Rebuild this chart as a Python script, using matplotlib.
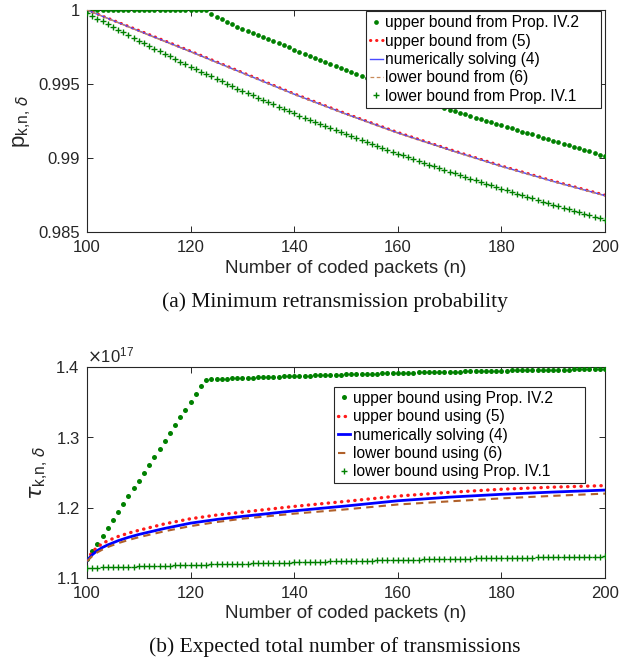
import matplotlib
matplotlib.use('Agg')
import matplotlib.pyplot as plt
import numpy as np
from matplotlib.ticker import FuncFormatter, ScalarFormatter

plt.rcParams['font.family'] = ['Liberation Sans', 'DejaVu Sans']
plt.rcParams['mathtext.fontset'] = 'dejavusans'

# ---------------- data ----------------
n_markers = np.arange(100, 201)

# (a) minimum retransmission probability
p_upper_prop42 = [
    1.0, 1.0, 1.0, 1.0, 1.0, 1.0, 1.0, 1.0, 1.0, 1.0,
    1.0, 1.0, 1.0, 1.0, 1.0, 1.0, 1.0, 1.0, 1.0, 1.0,
    1.0, 1.0, 1.0, 1.0,
    0.99975, 0.99955, 0.99938, 0.99921, 0.99904, 0.99888, 0.99872,
    0.99858, 0.99844, 0.99830, 0.99816, 0.99802, 0.99788, 0.99775, 0.99761, 0.99747, 0.99733,
    0.99719, 0.99705, 0.99691, 0.99677, 0.99664, 0.99650, 0.99636, 0.99622, 0.99608, 0.99595,
    0.99581, 0.99568, 0.99554, 0.99541, 0.99527, 0.99514, 0.99500, 0.99487, 0.99473, 0.99460,
    0.99446, 0.99433, 0.99419, 0.99406, 0.99392, 0.99379, 0.99365, 0.99352, 0.99338, 0.99325,
    0.99315, 0.99304, 0.99294, 0.99283, 0.99273, 0.99263, 0.99252, 0.99242, 0.99231, 0.99221,
    0.99211, 0.99200, 0.99190, 0.99179, 0.99169, 0.99159, 0.99148, 0.99138, 0.99127, 0.99117,
    0.99107, 0.99096, 0.99086, 0.99075, 0.99065, 0.99055, 0.99044, 0.99034, 0.99023, 0.99013,
]
p_lower_prop41 = [
    0.99980,
    0.99961, 0.99942, 0.99924, 0.99905, 0.99886, 0.99867, 0.99848, 0.99830, 0.99811, 0.99792,
    0.99774, 0.99757, 0.99739, 0.99722, 0.99704, 0.99686, 0.99669, 0.99651, 0.99634, 0.99616,
    0.99600, 0.99583, 0.99567, 0.99551, 0.99535, 0.99518, 0.99502, 0.99486, 0.99469, 0.99453,
    0.99438, 0.99423, 0.99407, 0.99392, 0.99377, 0.99362, 0.99347, 0.99331, 0.99316, 0.99301,
    0.99287, 0.99273, 0.99259, 0.99245, 0.99231, 0.99216, 0.99202, 0.99188, 0.99174, 0.99160,
    0.99147, 0.99134, 0.99121, 0.99108, 0.99095, 0.99081, 0.99068, 0.99055, 0.99042, 0.99029,
    0.99017, 0.99005, 0.98992, 0.98980, 0.98968, 0.98956, 0.98944, 0.98931, 0.98919, 0.98907,
    0.98896, 0.98884, 0.98873, 0.98861, 0.98850, 0.98838, 0.98827, 0.98815, 0.98804, 0.98792,
    0.98781, 0.98770, 0.98760, 0.98749, 0.98738, 0.98727, 0.98716, 0.98706, 0.98695, 0.98684,
    0.98674, 0.98664, 0.98654, 0.98644, 0.98634, 0.98624, 0.98614, 0.98604, 0.98594, 0.98584,
]
n_lines_a = [100, 110, 120, 130, 140, 150, 160, 170, 180, 190, 200]
p_upper_eq5 = [1.0, 0.99862, 0.99722, 0.99578, 0.99434, 0.99300, 0.99173, 0.99058, 0.98947, 0.98845, 0.98749]
p_numerical = [1.0, 0.99859, 0.99719, 0.99575, 0.99431, 0.99297, 0.99170, 0.99055, 0.98944, 0.98842, 0.98746]
p_lower_eq6 = [1.0, 0.99857, 0.99717, 0.99573, 0.99429, 0.99295, 0.99168, 0.99053, 0.98942, 0.98840, 0.98744]

# (b) expected total number of transmissions (units of 1e17)
TAU_UNIT = 1e17
tau_upper_prop42 = [
    1.1265, 1.1378, 1.1490, 1.1602, 1.1714, 1.1826, 1.1938, 1.2050, 1.2162, 1.2274,
    1.2386, 1.2498, 1.2610, 1.2722, 1.2834, 1.2946, 1.3058, 1.3170, 1.3282, 1.3394,
    1.3506, 1.3618, 1.3730, 1.3820, 1.3824, 1.3828, 1.3831, 1.3835, 1.3838, 1.3842, 1.3845,
    1.3848, 1.3850, 1.3853, 1.3856, 1.3859, 1.3861, 1.3864, 1.3867, 1.3869, 1.3872,
    1.3874, 1.3877, 1.3879, 1.3881, 1.3884, 1.3886, 1.3888, 1.3890, 1.3893, 1.3895,
    1.3897, 1.3899, 1.3901, 1.3903, 1.3905, 1.3907, 1.3909, 1.3911, 1.3913, 1.3915,
    1.3917, 1.3919, 1.3920, 1.3922, 1.3924, 1.3926, 1.3928, 1.3929, 1.3931, 1.3933,
    1.3935, 1.3936, 1.3938, 1.3939, 1.3941, 1.3942, 1.3944, 1.3945, 1.3947, 1.3948,
    1.3949, 1.3951, 1.3952, 1.3953, 1.3955, 1.3956, 1.3957, 1.3958, 1.3960, 1.3961,
    1.3962, 1.3963, 1.3964, 1.3965, 1.3967, 1.3968, 1.3969, 1.3970, 1.3971, 1.3972,
]
tau_lower_prop41 = [
    1.1143,
    1.1145, 1.1147, 1.1150, 1.1152, 1.1154, 1.1156, 1.1158, 1.1161, 1.1163, 1.1165,
    1.1167, 1.1169, 1.1171, 1.1173, 1.1175, 1.1177, 1.1179, 1.1181, 1.1183, 1.1185,
    1.1187, 1.1189, 1.1191, 1.1193, 1.1195, 1.1196, 1.1198, 1.1200, 1.1202, 1.1204,
    1.1206, 1.1208, 1.1209, 1.1211, 1.1213, 1.1215, 1.1217, 1.1218, 1.1220, 1.1222,
    1.1224, 1.1226, 1.1227, 1.1229, 1.1231, 1.1233, 1.1235, 1.1236, 1.1238, 1.1240,
    1.1242, 1.1243, 1.1245, 1.1246, 1.1248, 1.1250, 1.1251, 1.1253, 1.1254, 1.1256,
    1.1258, 1.1259, 1.1261, 1.1262, 1.1264, 1.1265, 1.1267, 1.1268, 1.1270, 1.1271,
    1.1272, 1.1274, 1.1275, 1.1276, 1.1278, 1.1279, 1.1280, 1.1281, 1.1283, 1.1284,
    1.1285, 1.1286, 1.1288, 1.1289, 1.1290, 1.1291, 1.1292, 1.1294, 1.1295, 1.1296,
    1.1297, 1.1298, 1.1299, 1.1300, 1.1301, 1.1302, 1.1303, 1.1304, 1.1305, 1.1306,
]
n_lines_b = [100, 101, 102, 103, 104, 106, 108, 110, 115, 120, 125, 130, 140, 150, 160, 170, 180, 190, 200]
tau_upper_eq5 = [1.1255, 1.1370, 1.1440, 1.1490, 1.1530, 1.1590, 1.1638, 1.1678, 1.1770, 1.1843,
                 1.1895, 1.1937, 1.2018, 1.2090, 1.2165, 1.2218, 1.2262, 1.2292, 1.2314]
tau_numerical = [1.1248, 1.1330, 1.1390, 1.1435, 1.1470, 1.1530, 1.1578, 1.1619, 1.1705, 1.1780,
                 1.1832, 1.1876, 1.1955, 1.2024, 1.2098, 1.2150, 1.2190, 1.2222, 1.2250]
tau_lower_eq6 = [1.1240, 1.1310, 1.1365, 1.1405, 1.1440, 1.1495, 1.1540, 1.1580, 1.1665, 1.1738,
                 1.1795, 1.1843, 1.1915, 1.1976, 1.2045, 1.2090, 1.2132, 1.2168, 1.2200]

x_ticks = [100, 120, 140, 160, 180, 200]
p_ticks = [0.985, 0.99, 0.995, 1.0]
tau_ticks = [1.1, 1.2, 1.3, 1.4]

labels_a = ['upper bound from Prop. IV.2', 'upper bound from (5)', 'numerically solving (4)',
            'lower bound from (6)', 'lower bound from Prop. IV.1']
labels_b = ['upper bound using Prop. IV.2', 'upper bound using (5)', 'numerically solving (4)',
            'lower bound using (6)', 'lower bound using Prop. IV.1']

# ---------------- styling ----------------
GREEN = '#008000'
RED = '#ff1a1a'
AX_COLOR = '#262626'
W, H = 620, 665

fig = plt.figure(figsize=(W / 100, H / 100), dpi=100)
ax1 = fig.add_axes([87 / W, 1 - 232 / H, 518 / W, 222 / H])
ax2 = fig.add_axes([87 / W, 1 - 578 / H, 518 / W, 211 / H])


def style_axes(ax):
    for s in ax.spines.values():
        s.set_color(AX_COLOR)
        s.set_linewidth(0.8)
    ax.tick_params(direction='in', top=True, right=True, length=4, width=0.7,
                   colors=AX_COLOR, labelsize=12, labelcolor=AX_COLOR)
    ax.tick_params(axis='x', pad=6)
    ax.tick_params(axis='y', pad=5)
    ax.set_xlim(100, 200)
    ax.set_xticks(x_ticks)
    ax.set_xlabel('Number of coded packets (n)', fontsize=13.5, color=AX_COLOR, labelpad=3)


def add_legend(ax, x0, y0, width, height):
    leg = ax.legend(loc='upper left', bbox_to_anchor=(x0, y0, width, height), mode='expand',
                    fontsize=11.2, fancybox=False, framealpha=1, edgecolor=AX_COLOR,
                    handlelength=0.8, handletextpad=0.15, borderpad=0.25,
                    labelspacing=0.22, borderaxespad=0)
    leg.get_frame().set_linewidth(0.8)
    return leg


dot_ls = (0, (0.1, 1.9))

# ---- (a)
ax1.plot(n_markers, p_upper_prop42, linestyle='none', marker='o', ms=3.4, mew=0,
         color=GREEN, label=labels_a[0], zorder=3)
ax1.plot(n_lines_a, p_upper_eq5, linestyle=dot_ls, lw=2.2, dash_capstyle='round',
         color=RED, label=labels_a[1], zorder=3)
ax1.plot(n_lines_a, p_numerical, linestyle='-', lw=1.0, color='#4a4aff',
         label=labels_a[2], zorder=4)
ax1.plot(n_lines_a, p_lower_eq6, linestyle=(0, (3, 2)), lw=0.9, color='#c88a5a',
         label=labels_a[3], zorder=4)
ax1.plot(n_markers, p_lower_prop41, linestyle='none', marker='+', ms=4.5, mew=1.0,
         color=GREEN, label=labels_a[4], zorder=3)
style_axes(ax1)
ax1.set_ylim(0.985, 1.0)
ax1.set_yticks(p_ticks)
ax1.yaxis.set_major_formatter(FuncFormatter(lambda v, _: '{:g}'.format(round(v, 6))))
ax1.set_ylabel(r'$\mathregular{p}_{\mathregular{k{,}n{,}}\ \delta}$', fontsize=16, color=AX_COLOR, labelpad=4)
add_legend(ax1, 0.539, 0.993, 0.453, 0.001)

# ---- (b)
t_up42 = np.array(tau_upper_prop42) * TAU_UNIT
t_up5 = np.array(tau_upper_eq5) * TAU_UNIT
t_num = np.array(tau_numerical) * TAU_UNIT
t_lo6 = np.array(tau_lower_eq6) * TAU_UNIT
t_lo41 = np.array(tau_lower_prop41) * TAU_UNIT

ax2.plot(n_markers, t_up42, linestyle='none', marker='o', ms=3.6, mew=0,
         color=GREEN, label=labels_b[0], zorder=3)
ax2.plot(n_lines_b, t_up5, linestyle=dot_ls, lw=2.4, dash_capstyle='round',
         color=RED, label=labels_b[1], zorder=3)
ax2.plot(n_lines_b, t_num, linestyle='-', lw=2.0, color='#0000ff',
         label=labels_b[2], zorder=4)
ax2.plot(n_lines_b, t_lo6, linestyle=(0, (3.5, 2.5)), lw=1.5, color='#b0602a',
         label=labels_b[3], zorder=4)
ax2.plot(n_markers, t_lo41, linestyle='none', marker='+', ms=5, mew=1.0,
         color=GREEN, label=labels_b[4], zorder=3)
style_axes(ax2)
ax2.set_ylim(1.1 * TAU_UNIT, 1.4 * TAU_UNIT)
ax2.set_yticks([v * TAU_UNIT for v in tau_ticks])
fmt = ScalarFormatter(useMathText=True)
fmt.set_powerlimits((0, 0))
ax2.yaxis.set_major_formatter(fmt)
ax2.yaxis.get_offset_text().set_fontsize(12)
ax2.yaxis.get_offset_text().set_color(AX_COLOR)
ax2.set_ylabel(r'$\tau_{\mathregular{k{,}n{,}}\ \delta}$', fontsize=16, color=AX_COLOR, labelpad=4)
add_legend(ax2, 0.477, 0.905, 0.484, 0.001)

# ---- captions
fig.text(335 / W, 1 - 302 / H, '(a) Minimum retransmission probability',
         ha='center', va='center', family='Liberation Serif', fontsize=15.5, color='#111111')
fig.text(335 / W, 1 - 647 / H, '(b) Expected total number of transmissions',
         ha='center', va='center', family='Liberation Serif', fontsize=15.5, color='#111111')

fig.savefig('out.png', dpi=100)
